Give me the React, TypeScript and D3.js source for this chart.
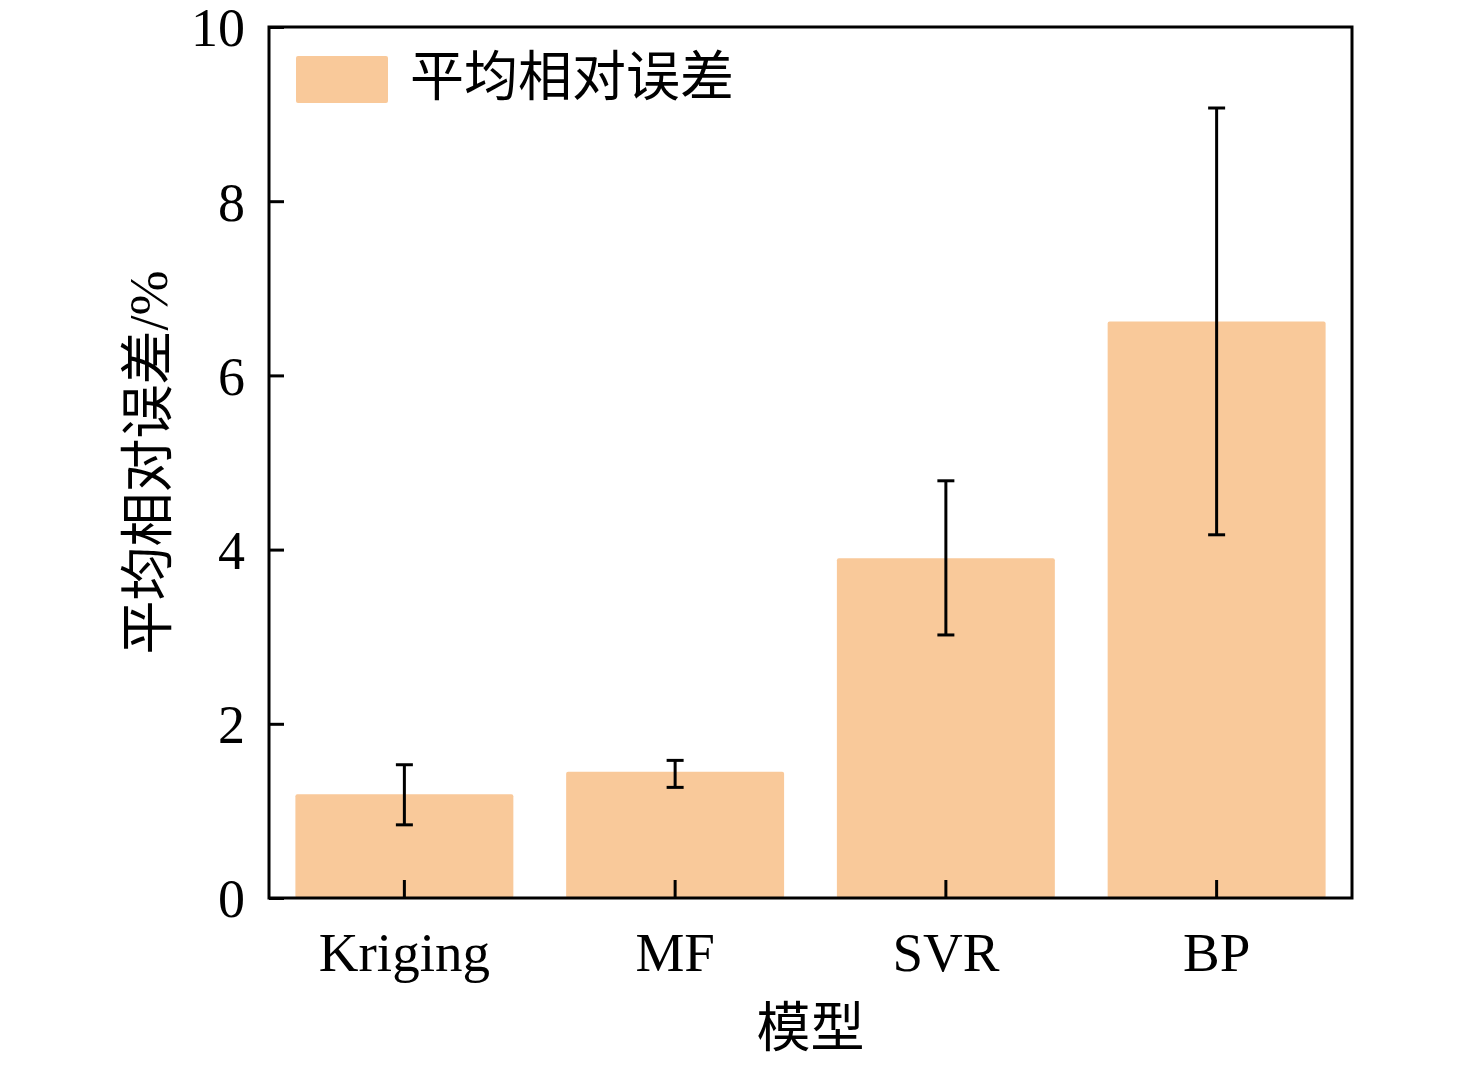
import React, { useRef, useEffect } from 'react';
import * as d3 from 'd3';

// data
const categories = ['Kriging', 'MF', 'SVR', 'BP'];
const meanError = [1.19, 1.45, 3.9, 6.62];
const errorHigh = [1.53, 1.58, 4.79, 9.07];
const errorLow = [0.84, 1.27, 3.02, 4.17];
const yTicks = [0, 2, 4, 6, 8, 10];

const legendLabel = '平均相对误差';
const yLabel = '平均相对误差/%';
const xLabel = '模型';

type D3Selection = d3.Selection<SVGSVGElement, unknown, null, undefined>;

const width = 1476;
const height = 1065;
const margin = { top: 27, right: 124, bottom: 167, left: 269 };
const barColor = '#F9C99A';
const latin = '"Liberation Serif", "Times New Roman", serif';
const cjk = '"Liberation Serif", "Noto Sans CJK SC", serif';

function drawChart(svg: D3Selection) {
  svg.selectAll('*').remove();

  const x0 = margin.left;
  const x1 = width - margin.right;
  const y0 = height - margin.bottom;
  const y1 = margin.top;

  const xScale = d3
    .scaleBand()
    .domain(categories)
    .range([x0, x1])
    .paddingInner(0.195)
    .paddingOuter(0.0975);
  const yScale = d3.scaleLinear().domain([0, 10]).range([y0, y1]);

  svg.append('rect').attr('width', width).attr('height', height).attr('fill', '#fff');

  // bars
  svg
    .append('g')
    .selectAll('rect')
    .data(categories)
    .join('rect')
    .attr('x', (d) => xScale(d)!)
    .attr('y', (d, i) => yScale(meanError[i]))
    .attr('width', xScale.bandwidth())
    .attr('height', (d, i) => yScale(0) - yScale(meanError[i]))
    .attr('rx', 2)
    .attr('fill', barColor);

  // error bars
  const cap = 8.5;
  const eb = svg
    .append('g')
    .attr('stroke', '#000')
    .attr('stroke-width', 3)
    .selectAll('g')
    .data(categories)
    .join('g')
    .attr('transform', (d) => `translate(${xScale(d)! + xScale.bandwidth() / 2},0)`);
  eb.append('line')
    .attr('y1', (d, i) => yScale(errorHigh[i]))
    .attr('y2', (d, i) => yScale(errorLow[i]));
  eb.append('line')
    .attr('x1', -cap)
    .attr('x2', cap)
    .attr('y1', (d, i) => yScale(errorHigh[i]))
    .attr('y2', (d, i) => yScale(errorHigh[i]));
  eb.append('line')
    .attr('x1', -cap)
    .attr('x2', cap)
    .attr('y1', (d, i) => yScale(errorLow[i]))
    .attr('y2', (d, i) => yScale(errorLow[i]));

  // y axis, ticks pointing inward
  const yAxis = d3
    .axisRight(yScale)
    .tickValues(yTicks)
    .tickSize(15)
    .tickSizeOuter(0)
    .tickFormat((d) => `${d}`);
  const gy = svg.append('g').attr('transform', `translate(${x0},0)`).call(yAxis);
  gy.select('.domain').remove();
  gy.selectAll('line').attr('stroke', '#000').attr('stroke-width', 3);
  gy.selectAll('text')
    .attr('x', -24)
    .attr('dy', '0.35em')
    .attr('text-anchor', 'end')
    .attr('font-family', latin)
    .attr('font-size', 54)
    .attr('fill', '#000');

  // x axis, ticks pointing up
  const xAxis = d3.axisTop(xScale).tickSize(18).tickSizeOuter(0);
  const gx = svg.append('g').attr('transform', `translate(0,${y0})`).call(xAxis);
  gx.select('.domain').remove();
  gx.selectAll('line').attr('stroke', '#000').attr('stroke-width', 3);
  gx.selectAll('text')
    .attr('y', 73)
    .attr('dy', 0)
    .attr('font-family', latin)
    .attr('font-size', 55)
    .attr('fill', '#000');

  // frame
  svg
    .append('rect')
    .attr('x', x0)
    .attr('y', y1)
    .attr('width', x1 - x0)
    .attr('height', y0 - y1)
    .attr('fill', 'none')
    .attr('stroke', '#000')
    .attr('stroke-width', 3);

  // legend
  svg
    .append('rect')
    .attr('x', 296)
    .attr('y', 56)
    .attr('width', 92)
    .attr('height', 47)
    .attr('rx', 2)
    .attr('fill', barColor);
  svg
    .append('text')
    .attr('x', 410)
    .attr('y', 78)
    .attr('dominant-baseline', 'central')
    .attr('font-family', cjk)
    .attr('font-size', 54)
    .text(legendLabel);

  // axis titles
  svg
    .append('text')
    .attr('transform', `translate(149,${(y0 + y1) / 2}) rotate(-90)`)
    .attr('text-anchor', 'middle')
    .attr('dominant-baseline', 'central')
    .attr('font-family', cjk)
    .attr('font-size', 54)
    .text(yLabel);
  svg
    .append('text')
    .attr('x', (x0 + x1) / 2)
    .attr('y', 1029)
    .attr('text-anchor', 'middle')
    .attr('dominant-baseline', 'central')
    .attr('font-family', cjk)
    .attr('font-size', 54)
    .text(xLabel);
}

export default function App() {
  const ref = useRef<SVGSVGElement>(null);

  useEffect(() => {
    if (ref.current) {
      drawChart(d3.select(ref.current));
    }
  }, []);

  return (
    <svg
      ref={ref}
      width={width}
      height={height}
      style={{ position: 'absolute', left: 0, top: 0, display: 'block' }}
    />
  );
}
